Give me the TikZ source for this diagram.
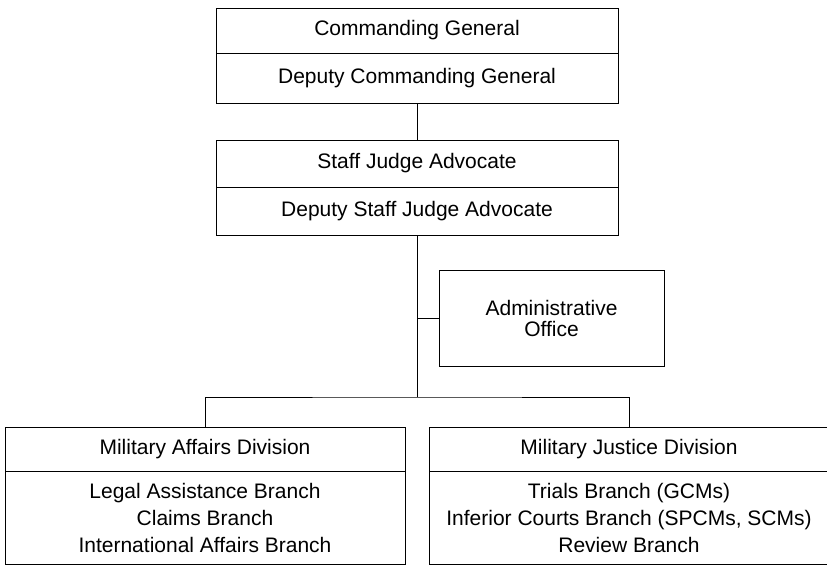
\documentclass[tikz,border=0pt]{standalone}
\usepackage{fontspec}
\setmainfont{Liberation Sans}
\begin{document}
\begin{tikzpicture}[x=1pt,y=-1pt,line width=1pt,
  cell/.style={draw=black, line width=1pt, inner sep=0pt, align=center,
    font=\fontsize{21}{27}\selectfont},
  conn/.style={draw=black, line width=1pt}]
\useasboundingbox (0,0) rectangle (827,565);
\clip (0,0) rectangle (827,565);
\node[cell, minimum width=402pt, minimum height=45pt] (cg) at (417,30.5) {Commanding General};
\node[cell, minimum width=402pt, minimum height=50pt] (dcg) at (417,78) {Deputy Commanding General};
\node[cell, minimum width=402pt, minimum height=47pt] (sja) at (417,163.5) {Staff Judge Advocate};
\node[cell, minimum width=402pt, minimum height=48pt] (dsja) at (417,211) {Deputy Staff Judge Advocate};
\node[cell, minimum width=225pt, minimum height=96pt, font=\fontsize{21}{21}\selectfont] (adm) at (551.5,318) {Administrative\\Office};
\node[cell, minimum width=400pt, minimum height=44pt] (mad) at (205,449) {Military Affairs Division};
\node[cell, minimum width=400pt, minimum height=93pt] (madb) at (205,517.5) {Legal Assistance Branch\\Claims Branch\\International Affairs Branch};
\node[cell, minimum width=400pt, minimum height=44pt] (mjd) at (629,449) {Military Justice Division};
\node[cell, minimum width=400pt, minimum height=93pt] (mjdb) at (629,517.5) {Trials Branch (GCMs)\\Inferior Courts Branch (SPCMs, SCMs)\\Review Branch};
\coordinate (bus) at (417,397);
\draw[conn] (dcg.south) -- (sja.north);
\draw[conn] (dsja.south) -- (bus);
\draw[conn] (mad.north) |- (bus) -| (mjd.north);
\draw[conn] (adm.west) -- (adm.west -| bus);
\end{tikzpicture}
\end{document}
